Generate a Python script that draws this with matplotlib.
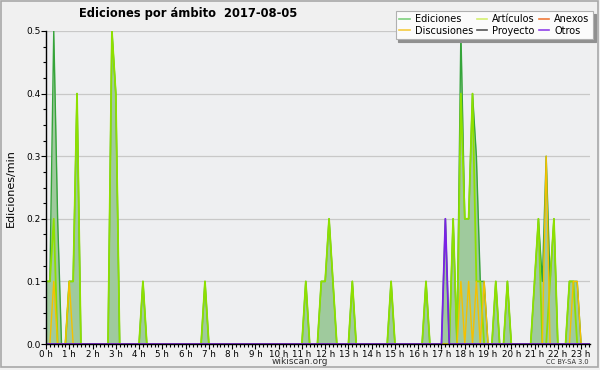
import numpy as np
import matplotlib
matplotlib.use("Agg")
import matplotlib.pyplot as plt
from matplotlib.lines import Line2D
from matplotlib.patches import Rectangle
from matplotlib.ticker import MultipleLocator

# 10-minute bins over the day (edits per minute)
ediciones = [
    0.1, 0.1, 0.5, 0.2, 0, 0,   0.1, 0.1, 0.4, 0, 0, 0,
    0, 0, 0, 0, 0, 0.5,         0.4, 0, 0, 0, 0, 0,
    0, 0.1, 0, 0, 0, 0,         0, 0, 0, 0, 0, 0,
    0, 0, 0, 0, 0, 0.1,         0, 0, 0, 0, 0, 0,
    0, 0, 0, 0, 0, 0,           0, 0, 0, 0, 0, 0,
    0, 0, 0, 0, 0, 0,           0, 0.1, 0, 0, 0, 0.1,
    0.1, 0.2, 0.1, 0, 0, 0,     0, 0.1, 0, 0, 0, 0,
    0, 0, 0, 0, 0, 0.1,         0, 0, 0, 0, 0, 0,
    0, 0, 0.1, 0, 0, 0,         0, 0.2, 0, 0.2, 0, 0.5,
    0.2, 0.2, 0.4, 0.3, 0.1, 0.1, 0, 0, 0.1, 0, 0, 0.1,
    0, 0, 0, 0, 0, 0,           0.1, 0.2, 0.1, 0.3, 0.1, 0.2,
    0, 0, 0, 0.1, 0.1, 0.1,     0, 0, 0, 0, 0, 0,
]
articulos = [
    0.1, 0.1, 0.2, 0, 0, 0,     0.1, 0.1, 0.4, 0, 0, 0,
    0, 0, 0, 0, 0, 0.5,         0.4, 0, 0, 0, 0, 0,
    0, 0.1, 0, 0, 0, 0,         0, 0, 0, 0, 0, 0,
    0, 0, 0, 0, 0, 0.1,         0, 0, 0, 0, 0, 0,
    0, 0, 0, 0, 0, 0,           0, 0, 0, 0, 0, 0,
    0, 0, 0, 0, 0, 0,           0, 0.1, 0, 0, 0, 0.1,
    0.1, 0.2, 0.1, 0, 0, 0,     0, 0.1, 0, 0, 0, 0,
    0, 0, 0, 0, 0, 0.1,         0, 0, 0, 0, 0, 0,
    0, 0, 0.1, 0, 0, 0,         0, 0, 0, 0.2, 0, 0.4,
    0.2, 0.2, 0.4, 0.1, 0.1, 0, 0, 0, 0.1, 0, 0, 0.1,
    0, 0, 0, 0, 0, 0,           0.1, 0.2, 0, 0, 0.1, 0.2,
    0, 0, 0, 0.1, 0.1, 0,       0, 0, 0, 0, 0, 0,
]
discusiones = [
    0, 0, 0.1, 0, 0, 0,         0.1, 0, 0, 0, 0, 0,
    0, 0, 0, 0, 0, 0,           0, 0, 0, 0, 0, 0,
    0, 0, 0, 0, 0, 0,           0, 0, 0, 0, 0, 0,
    0, 0, 0, 0, 0, 0,           0, 0, 0, 0, 0, 0,
    0, 0, 0, 0, 0, 0,           0, 0, 0, 0, 0, 0,
    0, 0, 0, 0, 0, 0,           0, 0, 0, 0, 0, 0,
    0, 0, 0, 0, 0, 0,           0, 0, 0, 0, 0, 0,
    0, 0, 0, 0, 0, 0,           0, 0, 0, 0, 0, 0,
    0, 0, 0, 0, 0, 0,           0, 0, 0, 0, 0, 0.1,
    0, 0.1, 0, 0.1, 0, 0.1,     0, 0, 0, 0, 0, 0,
    0, 0, 0, 0, 0, 0,           0, 0, 0, 0.3, 0, 0,
    0, 0, 0, 0, 0.1, 0.1,       0, 0, 0, 0, 0, 0,
]
otros = [
    0, 0, 0, 0, 0, 0,   0, 0, 0, 0, 0, 0,
    0, 0, 0, 0, 0, 0,   0, 0, 0, 0, 0, 0,
    0, 0, 0, 0, 0, 0,   0, 0, 0, 0, 0, 0,
    0, 0, 0, 0, 0, 0,   0, 0, 0, 0, 0, 0,
    0, 0, 0, 0, 0, 0,   0, 0, 0, 0, 0, 0,
    0, 0, 0, 0, 0, 0,   0, 0, 0, 0, 0, 0,
    0, 0, 0, 0, 0, 0,   0, 0, 0, 0, 0, 0,
    0, 0, 0, 0, 0, 0,   0, 0, 0, 0, 0, 0,
    0, 0, 0, 0, 0, 0,   0, 0.2, 0, 0, 0, 0,
    0, 0, 0, 0, 0, 0,   0, 0, 0, 0, 0, 0,
    0, 0, 0, 0, 0, 0,   0, 0, 0, 0, 0, 0,
    0, 0, 0, 0, 0, 0,   0, 0, 0, 0, 0, 0,
]
anexos = [0.0] * 144
proyecto = [0.0] * 144

hour_labels = ["0 h", "1 h", "2 h", "3 h", "4 h", "5 h", "6 h", "7 h", "8 h",
               "9 h", "10 h", "11 h", "12 h", "13 h", "14 h", "15 h", "16 h",
               "17 h", "18 h", "19 h", "20 h", "21 h", "22 h", "23 h"]
yticks = [0.0, 0.1, 0.2, 0.3, 0.4, 0.5]

x = np.arange(len(ediciones)) / 6.0

W, H = 600, 370
fig = plt.figure(figsize=(6, 3.7), dpi=100)
fig.patch.set_facecolor("#f0f0f0")
fig.patches.append(Rectangle((0.5 / W, 3 / H), 597 / W, 366 / H, transform=fig.transFigure,
                             fill=False, edgecolor="#a8a8a8", linewidth=1.2))

ax = fig.add_axes([46 / W, 1 - 344 / H, 544 / W, (344 - 31) / H])
ax.set_facecolor("#eeeff1")

ax.fill_between(x, ediciones, 0, color="#9fca9d", linewidth=0, zorder=1)
ax.plot(x, ediciones, color="#35a43a", lw=1.0, zorder=3)
ax.plot(x, anexos, color="#f07a3a", lw=1.0, zorder=2)
ax.plot(x, proyecto, color="#555555", lw=1.0, zorder=2)
ax.plot(x, articulos, color="#8ee000", lw=1.3, zorder=4)
ax.plot(x, discusiones, color="#f5c000", lw=1.0, zorder=5)
ax.plot(x, otros, color="#7a22e6", lw=1.3, zorder=6)

ax.set_xlim(0, 140.3 / 6)
ax.set_ylim(0, 0.5)
ax.set_xticks(range(len(hour_labels)))
ax.set_xticklabels(hour_labels, fontsize=6.3)
ax.xaxis.set_minor_locator(MultipleLocator(1 / 6))
ax.set_yticks(yticks)
ax.set_yticklabels(["%.1f" % v for v in yticks], fontsize=6.5)
ax.yaxis.set_minor_locator(MultipleLocator(0.025))
ax.tick_params(axis="both", which="major", length=3.5, width=0.8, pad=0.5, color="black")
ax.tick_params(axis="both", which="minor", length=2.5, width=0.8, color="black")
ax.grid(axis="y", which="major", color="#c8c8c8", lw=0.9, zorder=0)
ax.set_axisbelow(True)
for s in ("top", "right"):
    ax.spines[s].set_visible(False)
for s in ("left", "bottom"):
    ax.spines[s].set_linewidth(1.0)
    ax.spines[s].set_zorder(10)

fig.text(188 / W, 1 - 14 / H, "Ediciones por ámbito  2017-08-05", ha="center", va="center",
         fontsize=8.3, fontweight="bold")
fig.text(11 / W, 1 - 188 / H, "Ediciones/min", rotation=90, ha="center", va="center", fontsize=8)
fig.text(300 / W, 1 - 362 / H, "wikiscan.org", ha="center", va="center", fontsize=6.5, color="#333333")
fig.text(589 / W, 1 - 362 / H, "CC BY-SA 3.0", ha="right", va="center", fontsize=4.8, color="#333333")

handles = [
    Line2D([], [], color="#7fd07f", lw=1.2, label="Ediciones"),
    Line2D([], [], color="#f5cc40", lw=1.2, label="Discusiones"),
    Line2D([], [], color="#d4f070", lw=1.2, label="Artículos"),
    Line2D([], [], color="#555555", lw=1.2, label="Proyecto"),
    Line2D([], [], color="#f07a3a", lw=1.2, label="Anexos"),
    Line2D([], [], color="#9040e8", lw=1.2, label="Otros"),
]
leg = fig.legend(handles=handles, ncol=3, loc="upper right",
                 bbox_to_anchor=(593 / W, 1 - 11 / H), fontsize=7,
                 frameon=True, fancybox=False,
                 shadow={"color": "#909090", "alpha": 1.0}, framealpha=1,
                 facecolor="#fbfbfb",
                 edgecolor="#b0b0b0", handlelength=1.1, handletextpad=0.5,
                 columnspacing=0.4, labelspacing=0.15, borderpad=0.35,
                 borderaxespad=0)
leg.get_frame().set_linewidth(0.8)

fig.savefig("out.png", dpi=100, facecolor=fig.get_facecolor())
